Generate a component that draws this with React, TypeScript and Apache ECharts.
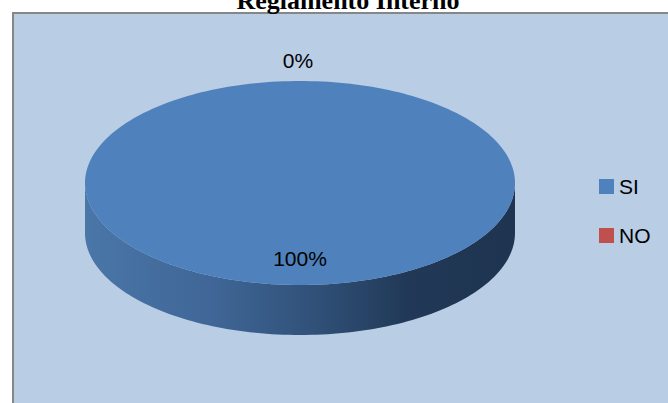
import React, { useEffect, useRef } from "react";
import * as echarts from "echarts";

const chartTitle = "Reglamento Interno";
const categories = ["SI", "NO"];
const values = [100, 0];
const colors = ["#4F81BD", "#C0504D"];

export default function App() {
  const ref = useRef<HTMLDivElement>(null);
  useEffect(() => {
    const chart = echarts.init(ref.current!, null, { renderer: "svg" });
    const total = values.reduce((a, b) => a + b, 0);
    const cx = 300, cy = 183, rx = 215, ry = 102, depth = 50;
    const starts: number[] = [];
    let acc = 0;
    values.forEach((v) => {
      starts.push((acc / total) * Math.PI * 2);
      acc += v;
    });
    const pt = (t: number, dy = 0, k = 1) => [cx + k * rx * Math.sin(t), cy - k * ry * Math.cos(t) + dy];
    const arc = (a: number, b: number, dy = 0) => {
      const n = Math.max(2, Math.ceil(((b - a) / (Math.PI * 2)) * 240));
      const out: number[][] = [];
      for (let j = 0; j <= n; j++) out.push(pt(a + ((b - a) * j) / n, dy));
      return out;
    };
    const sideGradient = new echarts.graphic.LinearGradient(0, 0, 1, 0, [
      { offset: 0, color: "#4A76A8" },
      { offset: 0.3, color: "#3F6696" },
      { offset: 0.55, color: "#2F4F76" },
      { offset: 0.75, color: "#213957" },
      { offset: 1, color: "#1E3450" },
    ]);

    const series = categories.map((name, i) => ({
      type: "custom",
      name,
      coordinateSystem: "none",
      silent: true,
      itemStyle: { color: colors[i] },
      data: [[values[i]]],
      renderItem: (_params: any, api: any) => {
        const v = api.value(0) as number;
        const share = v / total;
        const a0 = starts[i];
        const a1 = a0 + share * Math.PI * 2;
        const children: any[] = [];
        const s = Math.max(a0, Math.PI / 2);
        const e = Math.min(a1, (Math.PI * 3) / 2);
        if (e > s) {
          const pts = arc(s, e).concat(arc(s, e, depth).reverse());
          children.push({
            type: "polygon",
            z2: 1,
            shape: { points: pts },
            style: { fill: i === 0 ? sideGradient : colors[i] },
          });
        }
        if (a1 > a0) {
          const full = share >= 1;
          const pts = full ? arc(a0, a1) : [[cx, cy]].concat(arc(a0, a1));
          children.push({
            type: "polygon",
            z2: 2,
            shape: { points: pts },
            style: { fill: colors[i] },
          });
        }
        const mid = (a0 + a1) / 2;
        let lp: number[];
        if (share > 0) lp = pt(mid, 0, 0.74);
        else lp = [cx + (rx + 20) * Math.sin(mid) - 2, cy - (ry + 20) * Math.cos(mid) - 0.5];
        children.push({
          type: "text",
          z2: 3,
          style: {
            text: Math.round(share * 100) + "%",
            x: lp[0],
            y: lp[1],
            align: "center",
            verticalAlign: "middle",
            textAlign: "center",
            textVerticalAlign: "middle",
            fill: "#000",
            font: "21px 'Liberation Sans'",
          },
        });
        return { type: "group", children };
      },
    }));

    chart.setOption({
      animation: false,
      backgroundColor: "#ffffff",
      graphic: [
        {
          type: "rect",
          z: -10,
          silent: true,
          shape: { x: 13, y: 13, width: 700, height: 420 },
          style: { fill: "#B9CDE5", stroke: "#868686", lineWidth: 2 },
        },
        {
          type: "text",
          z: -5,
          silent: true,
          style: {
            text: chartTitle,
            x: 348,
            y: 0,
            align: "center",
            verticalAlign: "middle",
            textAlign: "center",
            textVerticalAlign: "middle",
            fill: "#000",
            font: "bold 26px 'Liberation Serif'",
          },
        },
      ],
      legend: {
        orient: "vertical",
        left: 594,
        top: 171,
        icon: "rect",
        itemWidth: 15,
        itemHeight: 15,
        itemGap: 28,
        data: categories,
        selectedMode: false,
        textStyle: { fontFamily: "Liberation Sans", fontSize: 21, color: "#000" },
      },
      series,
    });
    return () => chart.dispose();
  }, []);
  return <div ref={ref} style={{ position: "absolute", left: 0, top: 0, width: 668, height: 403 }} />;
}
